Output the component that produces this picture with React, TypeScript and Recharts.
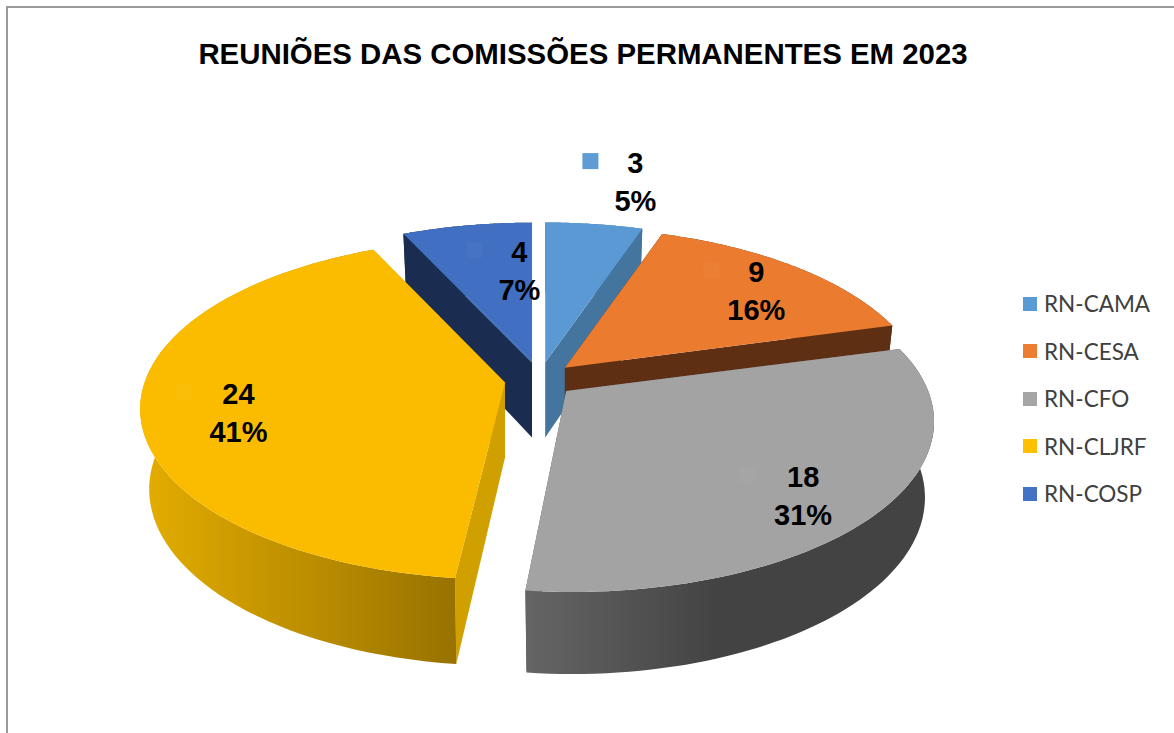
import { PieChart, Pie, Legend } from 'recharts';

// legend order, the way the sheet lists them
const categories = ['RN-CAMA', 'RN-CESA', 'RN-CFO', 'RN-CLJRF', 'RN-COSP'];
const meetings = [3, 9, 18, 24, 4];

const legendColors = ['#5b9bd5', '#ed7d31', '#a5a5a5', '#ffc000', '#4472c4'];
const topColors = ['#5a99d3', '#eb7c2f', '#a3a3a3', '#fbbc00', '#416fc2'];
const edgeColors = ['#44759f', '#5e2f12', '#5c5c5c', '#cfa000', '#1a2c50'];
const wallLeft = ['#44759f', '#5e2f12', '#656565', '#e4ad00', '#1a2c50'];
const wallRight = ['#44759f', '#5e2f12', '#434343', '#987200', '#1a2c50'];
// where the wall gradient reaches its dark end
const wallStop = [1, 1, 0.47, 1, 1];

// nudges for the data labels, same order as categories
const labelNudge = [
  [59, -93],
  [47, -14],
  [62, 35],
  [-52, 13],
  [29, -5],
];

// the rim of the two big slices sits a little off the simple model
const rimShift = [
  [0, 0],
  [0, 0],
  [6, 0],
  [-3, -4],
  [0, 0],
];

// fake 3D: tilt + perspective, fitted on the picture
const RADIUS = 356;
const FLATTEN = 165 / 356;
const PERSPECTIVE = 0.179;
const EXPLODE_X = 35;
const EXPLODE_Y = 17.5;
const DEPTH = 75;

const rows = categories.map((name, i) => ({
  name,
  value: meetings[i],
  fill: legendColors[i],
  index: i,
}));

// COSP has to be painted first (the yellow slice sits over its wall), so rotate
const drawRows = [rows[4], rows[0], rows[1], rows[2], rows[3]];
const total = meetings.reduce((a, b) => a + b, 0);
const startAngle = 90 + (360 * meetings[4]) / total;

const toRad = (deg: number) => (deg * Math.PI) / 180;

function rimPoint(deg: number, r: number) {
  const a = toRad(deg);
  const X = Math.cos(a) * (r / RADIUS);
  const Y = Math.sin(a) * (r / RADIUS);
  const s = 1 / (1 + PERSPECTIVE * Y);
  return { dx: RADIUS * X * s, dy: -RADIUS * FLATTEN * Y * s };
}

function apexOf(cx: number, cy: number, mid: number) {
  const a = toRad(mid);
  return { x: cx + EXPLODE_X * Math.cos(a), y: cy - EXPLODE_Y * Math.sin(a) };
}

const pt = (x: number, y: number) => `${x.toFixed(1)},${y.toFixed(1)}`;

function Slice3D(props: any) {
  const { cx, cy, outerRadius, startAngle: a0, endAngle: a1, payload } = props;
  const i = payload.index;
  const apex = apexOf(cx, cy, (a0 + a1) / 2);
  const [sx, sy] = rimShift[i];
  const steps = 72;
  const top: string[] = [];
  const bottom: string[] = [];
  for (let k = 0; k <= steps; k++) {
    const p = rimPoint(a0 + ((a1 - a0) * k) / steps, outerRadius);
    top.push(pt(apex.x + sx + p.dx, apex.y + sy + p.dy));
    bottom.push(pt(apex.x + sx + p.dx * 0.975, apex.y + DEPTH + p.dy * 1.035));
  }
  const apexTop = pt(apex.x, apex.y);
  const apexBottom = pt(apex.x, apex.y + DEPTH);
  const gradId = `wall-${i}`;
  return (
    <g>
      <defs>
        <linearGradient id={gradId} x1="0" y1="0" x2="1" y2="0">
          <stop offset="0" stopColor={wallLeft[i]} />
          <stop offset={wallStop[i]} stopColor={wallRight[i]} />
        </linearGradient>
      </defs>
      <polygon points={`${apexTop} ${top[0]} ${bottom[0]} ${apexBottom}`} fill={edgeColors[i]} />
      <polygon points={`${apexTop} ${top[steps]} ${bottom[steps]} ${apexBottom}`} fill={edgeColors[i]} />
      <polygon points={`${top.join(' ')} ${[...bottom].reverse().join(' ')}`} fill={`url(#${gradId})`} />
      <polygon points={`${apexTop} ${top.join(' ')}`} fill={topColors[i]} />
    </g>
  );
}

function SliceLabel(props: any) {
  const { cx, cy, midAngle, outerRadius, value, percent, payload } = props;
  const i = payload.index;
  const apex = apexOf(cx, cy, midAngle);
  const p = rimPoint(midAngle, outerRadius * 0.6);
  const x = apex.x + p.dx + labelNudge[i][0];
  const y = apex.y + p.dy + labelNudge[i][1];
  const keyX = x - (String(value).length > 1 ? 63 : 53);
  return (
    <g>
      <rect x={keyX} y={y - 28} width={16} height={16} fill={topColors[i]} />
      <rect x={keyX} y={y - 28} width={16} height={16} fill="#fff" fillOpacity={0.03} />
      <text
        x={x}
        y={y - 8}
        textAnchor="middle"
        fontFamily="Liberation Sans"
        fontWeight="bold"
        fontSize={29}
        fill="#000"
      >
        {value}
      </text>
      <text
        x={x}
        y={y + 30}
        textAnchor="middle"
        fontFamily="Liberation Sans"
        fontWeight="bold"
        fontSize={29}
        fill="#000"
      >
        {`${Math.round(percent * 100)}%`}
      </text>
    </g>
  );
}

function LegendList() {
  return (
    <div>
      {categories.map((name, i) => (
        <div key={name} style={{ display: 'flex', alignItems: 'center', height: 47.5 }}>
          <span style={{ width: 14, height: 14, background: legendColors[i], marginRight: 7 }} />
          <span style={{ fontFamily: 'Lato', fontSize: 22.5, color: '#404040' }}>{name}</span>
        </div>
      ))}
    </div>
  );
}

export default function App() {
  return (
    <div style={{ position: 'absolute', left: 0, top: 0, width: 1174, height: 733, background: '#fff' }}>
      <div
        style={{
          position: 'absolute',
          left: 6,
          top: 6,
          width: 1168,
          height: 727,
          borderLeft: '2px solid #9a9a9a',
          borderTop: '2px solid #9a9a9a',
          boxSizing: 'border-box',
        }}
      />
      <PieChart width={1174} height={733} margin={{ top: 0, right: 0, bottom: 0, left: 0 }}>
        <text
          x={583}
          y={64}
          textAnchor="middle"
          fontFamily="Liberation Sans"
          fontWeight="bold"
          fontSize={29.4}
          fill="#000"
        >
          REUNIÕES DAS COMISSÕES PERMANENTES EM 2023
        </text>
        <Pie
          data={drawRows}
          dataKey="value"
          nameKey="name"
          cx={539.5}
          cy={379.7}
          outerRadius={RADIUS}
          startAngle={startAngle}
          endAngle={startAngle - 360}
          stroke="none"
          shape={Slice3D}
          label={SliceLabel}
          labelLine={false}
          isAnimationActive={false}
        />
        <Legend
          content={LegendList}
          wrapperStyle={{ left: 1023, top: 280, width: 151, bottom: 'auto', right: 'auto' }}
        />
      </PieChart>
    </div>
  );
}
